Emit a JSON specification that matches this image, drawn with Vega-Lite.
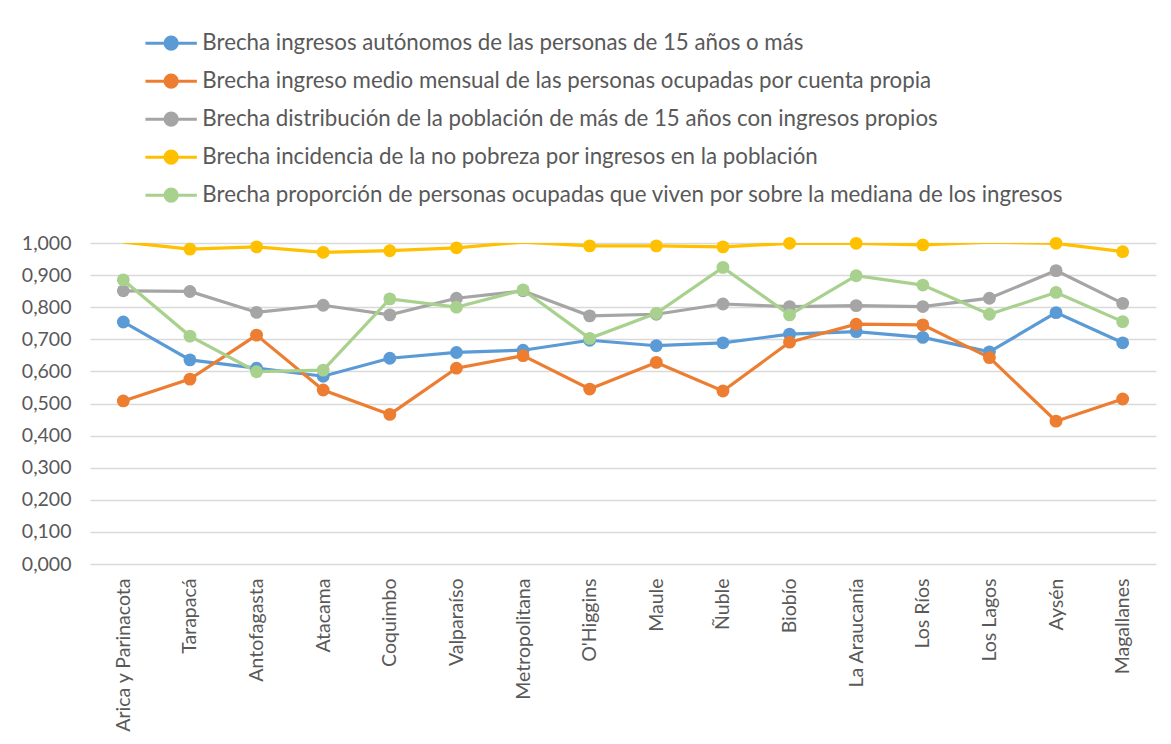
{
  "$schema": "https://vega.github.io/schema/vega-lite/v6.json",
  "width": 1066,
  "height": 321,
  "autosize": {"type": "none"},
  "padding": {"left": 90, "top": 243, "right": 15, "bottom": 180},
  "background": "white",
  "config": {
    "font": "Lato",
    "view": {"stroke": null},
    "locale": {"number": {"decimal": ",", "thousands": ".", "grouping": [3], "currency": ["$", ""]}}
  },
  "data": {
    "values": [
      {"region": "Arica y Parinacota", "serie": "Brecha ingresos autónomos de las personas de 15 años o más", "v": 0.754},
      {"region": "Tarapacá", "serie": "Brecha ingresos autónomos de las personas de 15 años o más", "v": 0.636},
      {"region": "Antofagasta", "serie": "Brecha ingresos autónomos de las personas de 15 años o más", "v": 0.610},
      {"region": "Atacama", "serie": "Brecha ingresos autónomos de las personas de 15 años o más", "v": 0.585},
      {"region": "Coquimbo", "serie": "Brecha ingresos autónomos de las personas de 15 años o más", "v": 0.641},
      {"region": "Valparaíso", "serie": "Brecha ingresos autónomos de las personas de 15 años o más", "v": 0.659},
      {"region": "Metropolitana", "serie": "Brecha ingresos autónomos de las personas de 15 años o más", "v": 0.666},
      {"region": "O'Higgins", "serie": "Brecha ingresos autónomos de las personas de 15 años o más", "v": 0.697},
      {"region": "Maule", "serie": "Brecha ingresos autónomos de las personas de 15 años o más", "v": 0.680},
      {"region": "Ñuble", "serie": "Brecha ingresos autónomos de las personas de 15 años o más", "v": 0.689},
      {"region": "Biobío", "serie": "Brecha ingresos autónomos de las personas de 15 años o más", "v": 0.716},
      {"region": "La Araucanía", "serie": "Brecha ingresos autónomos de las personas de 15 años o más", "v": 0.724},
      {"region": "Los Ríos", "serie": "Brecha ingresos autónomos de las personas de 15 años o más", "v": 0.706},
      {"region": "Los Lagos", "serie": "Brecha ingresos autónomos de las personas de 15 años o más", "v": 0.661},
      {"region": "Aysén", "serie": "Brecha ingresos autónomos de las personas de 15 años o más", "v": 0.783},
      {"region": "Magallanes", "serie": "Brecha ingresos autónomos de las personas de 15 años o más", "v": 0.689},

      {"region": "Arica y Parinacota", "serie": "Brecha ingreso medio mensual de las personas ocupadas por cuenta propia", "v": 0.508},
      {"region": "Tarapacá", "serie": "Brecha ingreso medio mensual de las personas ocupadas por cuenta propia", "v": 0.576},
      {"region": "Antofagasta", "serie": "Brecha ingreso medio mensual de las personas ocupadas por cuenta propia", "v": 0.713},
      {"region": "Atacama", "serie": "Brecha ingreso medio mensual de las personas ocupadas por cuenta propia", "v": 0.542},
      {"region": "Coquimbo", "serie": "Brecha ingreso medio mensual de las personas ocupadas por cuenta propia", "v": 0.466},
      {"region": "Valparaíso", "serie": "Brecha ingreso medio mensual de las personas ocupadas por cuenta propia", "v": 0.610},
      {"region": "Metropolitana", "serie": "Brecha ingreso medio mensual de las personas ocupadas por cuenta propia", "v": 0.649},
      {"region": "O'Higgins", "serie": "Brecha ingreso medio mensual de las personas ocupadas por cuenta propia", "v": 0.545},
      {"region": "Maule", "serie": "Brecha ingreso medio mensual de las personas ocupadas por cuenta propia", "v": 0.628},
      {"region": "Ñuble", "serie": "Brecha ingreso medio mensual de las personas ocupadas por cuenta propia", "v": 0.539},
      {"region": "Biobío", "serie": "Brecha ingreso medio mensual de las personas ocupadas por cuenta propia", "v": 0.691},
      {"region": "La Araucanía", "serie": "Brecha ingreso medio mensual de las personas ocupadas por cuenta propia", "v": 0.747},
      {"region": "Los Ríos", "serie": "Brecha ingreso medio mensual de las personas ocupadas por cuenta propia", "v": 0.745},
      {"region": "Los Lagos", "serie": "Brecha ingreso medio mensual de las personas ocupadas por cuenta propia", "v": 0.643},
      {"region": "Aysén", "serie": "Brecha ingreso medio mensual de las personas ocupadas por cuenta propia", "v": 0.445},
      {"region": "Magallanes", "serie": "Brecha ingreso medio mensual de las personas ocupadas por cuenta propia", "v": 0.514},

      {"region": "Arica y Parinacota", "serie": "Brecha distribución de la población de más de 15 años con ingresos propios", "v": 0.851},
      {"region": "Tarapacá", "serie": "Brecha distribución de la población de más de 15 años con ingresos propios", "v": 0.849},
      {"region": "Antofagasta", "serie": "Brecha distribución de la población de más de 15 años con ingresos propios", "v": 0.784},
      {"region": "Atacama", "serie": "Brecha distribución de la población de más de 15 años con ingresos propios", "v": 0.806},
      {"region": "Coquimbo", "serie": "Brecha distribución de la población de más de 15 años con ingresos propios", "v": 0.776},
      {"region": "Valparaíso", "serie": "Brecha distribución de la población de más de 15 años con ingresos propios", "v": 0.828},
      {"region": "Metropolitana", "serie": "Brecha distribución de la población de más de 15 años con ingresos propios", "v": 0.851},
      {"region": "O'Higgins", "serie": "Brecha distribución de la población de más de 15 años con ingresos propios", "v": 0.773},
      {"region": "Maule", "serie": "Brecha distribución de la población de más de 15 años con ingresos propios", "v": 0.778},
      {"region": "Ñuble", "serie": "Brecha distribución de la población de más de 15 años con ingresos propios", "v": 0.810},
      {"region": "Biobío", "serie": "Brecha distribución de la población de más de 15 años con ingresos propios", "v": 0.802},
      {"region": "La Araucanía", "serie": "Brecha distribución de la población de más de 15 años con ingresos propios", "v": 0.805},
      {"region": "Los Ríos", "serie": "Brecha distribución de la población de más de 15 años con ingresos propios", "v": 0.802},
      {"region": "Los Lagos", "serie": "Brecha distribución de la población de más de 15 años con ingresos propios", "v": 0.828},
      {"region": "Aysén", "serie": "Brecha distribución de la población de más de 15 años con ingresos propios", "v": 0.914},
      {"region": "Magallanes", "serie": "Brecha distribución de la población de más de 15 años con ingresos propios", "v": 0.812},

      {"region": "Arica y Parinacota", "serie": "Brecha incidencia de la no pobreza por ingresos en la población", "v": 1.003},
      {"region": "Tarapacá", "serie": "Brecha incidencia de la no pobreza por ingresos en la población", "v": 0.981},
      {"region": "Antofagasta", "serie": "Brecha incidencia de la no pobreza por ingresos en la población", "v": 0.988},
      {"region": "Atacama", "serie": "Brecha incidencia de la no pobreza por ingresos en la población", "v": 0.971},
      {"region": "Coquimbo", "serie": "Brecha incidencia de la no pobreza por ingresos en la población", "v": 0.976},
      {"region": "Valparaíso", "serie": "Brecha incidencia de la no pobreza por ingresos en la población", "v": 0.985},
      {"region": "Metropolitana", "serie": "Brecha incidencia de la no pobreza por ingresos en la población", "v": 1.003},
      {"region": "O'Higgins", "serie": "Brecha incidencia de la no pobreza por ingresos en la población", "v": 0.991},
      {"region": "Maule", "serie": "Brecha incidencia de la no pobreza por ingresos en la población", "v": 0.991},
      {"region": "Ñuble", "serie": "Brecha incidencia de la no pobreza por ingresos en la población", "v": 0.988},
      {"region": "Biobío", "serie": "Brecha incidencia de la no pobreza por ingresos en la población", "v": 0.999},
      {"region": "La Araucanía", "serie": "Brecha incidencia de la no pobreza por ingresos en la población", "v": 0.999},
      {"region": "Los Ríos", "serie": "Brecha incidencia de la no pobreza por ingresos en la población", "v": 0.994},
      {"region": "Los Lagos", "serie": "Brecha incidencia de la no pobreza por ingresos en la población", "v": 1.003},
      {"region": "Aysén", "serie": "Brecha incidencia de la no pobreza por ingresos en la población", "v": 0.999},
      {"region": "Magallanes", "serie": "Brecha incidencia de la no pobreza por ingresos en la población", "v": 0.973},

      {"region": "Arica y Parinacota", "serie": "Brecha proporción de personas ocupadas que viven por sobre la mediana de los ingresos", "v": 0.885},
      {"region": "Tarapacá", "serie": "Brecha proporción de personas ocupadas que viven por sobre la mediana de los ingresos", "v": 0.710},
      {"region": "Antofagasta", "serie": "Brecha proporción de personas ocupadas que viven por sobre la mediana de los ingresos", "v": 0.599},
      {"region": "Atacama", "serie": "Brecha proporción de personas ocupadas que viven por sobre la mediana de los ingresos", "v": 0.604},
      {"region": "Coquimbo", "serie": "Brecha proporción de personas ocupadas que viven por sobre la mediana de los ingresos", "v": 0.826},
      {"region": "Valparaíso", "serie": "Brecha proporción de personas ocupadas que viven por sobre la mediana de los ingresos", "v": 0.800},
      {"region": "Metropolitana", "serie": "Brecha proporción de personas ocupadas que viven por sobre la mediana de los ingresos", "v": 0.854},
      {"region": "O'Higgins", "serie": "Brecha proporción de personas ocupadas que viven por sobre la mediana de los ingresos", "v": 0.703},
      {"region": "Maule", "serie": "Brecha proporción de personas ocupadas que viven por sobre la mediana de los ingresos", "v": 0.781},
      {"region": "Ñuble", "serie": "Brecha proporción de personas ocupadas que viven por sobre la mediana de los ingresos", "v": 0.924},
      {"region": "Biobío", "serie": "Brecha proporción de personas ocupadas que viven por sobre la mediana de los ingresos", "v": 0.776},
      {"region": "La Araucanía", "serie": "Brecha proporción de personas ocupadas que viven por sobre la mediana de los ingresos", "v": 0.898},
      {"region": "Los Ríos", "serie": "Brecha proporción de personas ocupadas que viven por sobre la mediana de los ingresos", "v": 0.869},
      {"region": "Los Lagos", "serie": "Brecha proporción de personas ocupadas que viven por sobre la mediana de los ingresos", "v": 0.778},
      {"region": "Aysén", "serie": "Brecha proporción de personas ocupadas que viven por sobre la mediana de los ingresos", "v": 0.846},
      {"region": "Magallanes", "serie": "Brecha proporción de personas ocupadas que viven por sobre la mediana de los ingresos", "v": 0.755}
    ]
  },
  "encoding": {
    "x": {
      "field": "region",
      "type": "nominal",
      "sort": null,
      "scale": {"padding": 0.5},
      "axis": {
        "title": null,
        "labelAngle": -90,
        "labelAlign": "right",
        "labelBaseline": "middle",
        "labelPadding": 14,
        "labelFontSize": 19.5,
        "labelColor": "#595959",
        "ticks": false,
        "domain": false,
        "grid": false,
        "labelOverlap": false
      }
    },
    "y": {
      "field": "v",
      "type": "quantitative",
      "scale": {"domain": [0, 1], "nice": false, "zero": true},
      "axis": {
        "title": null,
        "values": [0, 0.1, 0.2, 0.3, 0.4, 0.5, 0.6, 0.7, 0.8, 0.9, 1.0],
        "format": ".3f",
        "labelFontSize": 19.5,
        "labelColor": "#595959",
        "labelPadding": 19,
        "ticks": false,
        "domain": false,
        "grid": true,
        "gridColor": "#D9D9D9",
        "gridWidth": 1.3
      }
    },
    "color": {
      "field": "serie",
      "type": "nominal",
      "scale": {
        "domain": [
          "Brecha ingresos autónomos de las personas de 15 años o más",
          "Brecha ingreso medio mensual de las personas ocupadas por cuenta propia",
          "Brecha distribución de la población de más de 15 años con ingresos propios",
          "Brecha incidencia de la no pobreza por ingresos en la población",
          "Brecha proporción de personas ocupadas que viven por sobre la mediana de los ingresos"
        ],
        "range": ["#5B9BD5", "#ED7D31", "#A5A5A5", "#FFC000", "#A9D18E"]
      },
      "legend": {
        "title": null,
        "orient": "none",
        "legendX": 70,
        "legendY": -211,
        "direction": "vertical",
        "symbolType": "M-4.2,0H4.2M1,0A1,1,0,1,1,-1,0A1,1,0,1,1,1,0Z",
        "symbolSize": 150,
        "symbolStrokeWidth": 3,
        "labelFontSize": 22.3,
        "labelColor": "#595959",
        "labelOffset": 20,
        "labelLimit": 1100,
        "rowPadding": 13
      }
    }
  },
  "layer": [
    {
      "mark": {"type": "line", "strokeWidth": 3.2, "clip": true}
    },
    {
      "transform": [{"filter": "datum.v <= 1"}],
      "mark": {"type": "point", "filled": true, "opacity": 1, "size": 165, "shape": "circle"}
    }
  ]
}
